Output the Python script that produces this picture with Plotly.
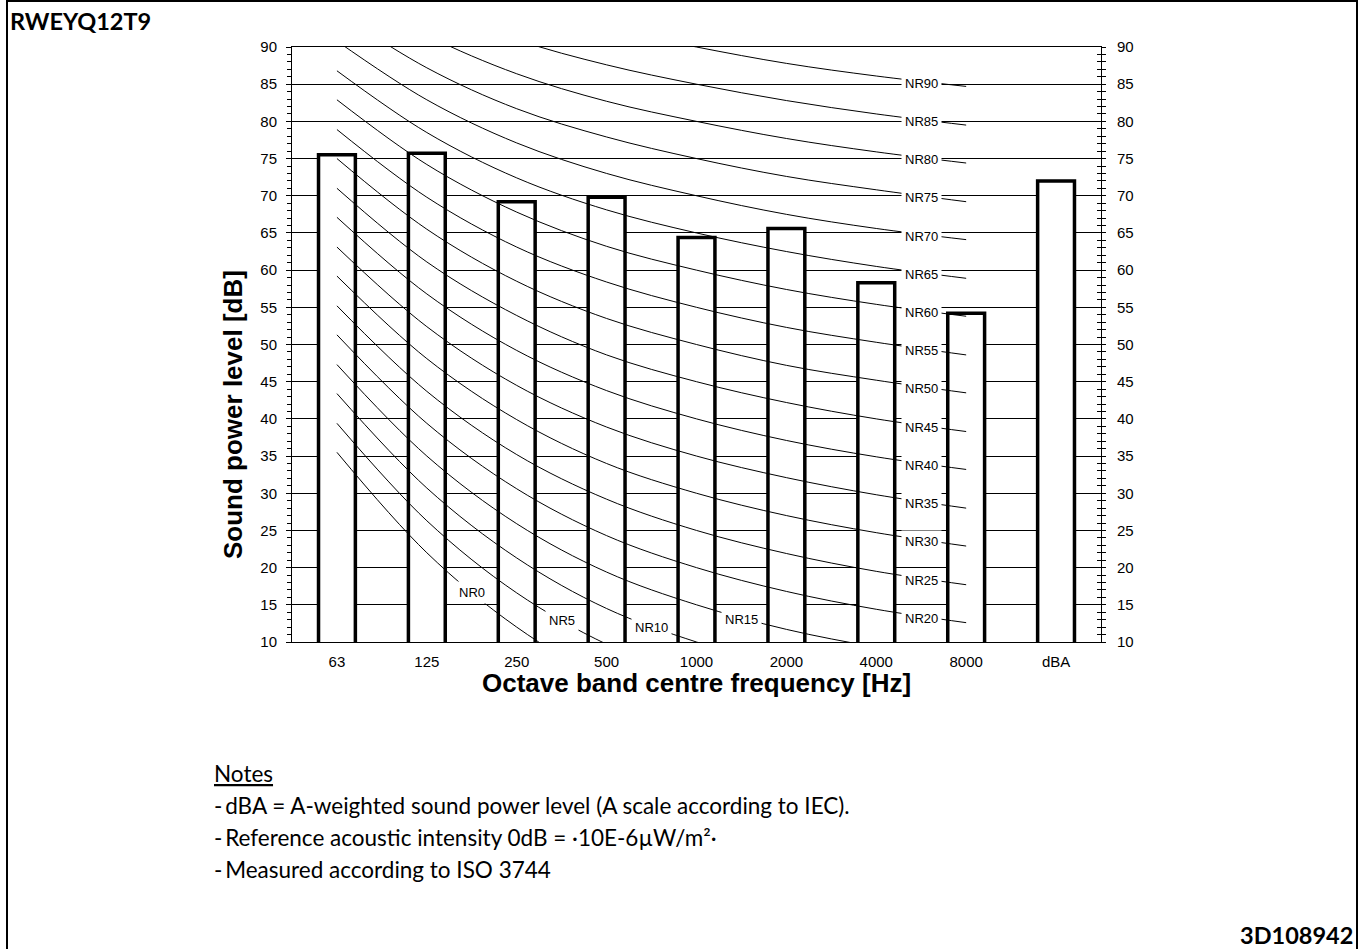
import plotly.graph_objects as go

# ---------------- data ----------------
categories = ["63", "125", "250", "500", "1000", "2000", "4000", "8000", "dBA"]
sound_power = [75.5, 75.7, 69.2, 69.8, 64.4, 65.6, 58.3, 54.2, 72.0]

nr_names = ["NR0", "NR5", "NR10", "NR15", "NR20", "NR25", "NR30", "NR35", "NR40", "NR45",
            "NR50", "NR55", "NR60", "NR65", "NR70", "NR75", "NR80", "NR85", "NR90"]
nr_63 = [35.5, 39.4, 43.4, 47.3, 51.3, 55.2, 59.2, 63.1, 67.1, 71.0, 75.0, 78.9, 82.9, 86.8, 90.8, 94.7, 98.7, 102.6, 106.6]
nr_125 = [22.0, 26.3, 30.7, 35.0, 39.4, 43.7, 48.1, 52.4, 56.8, 61.1, 65.5, 69.8, 74.2, 78.5, 82.9, 87.2, 91.6, 95.9, 100.3]
nr_250 = [12.0, 16.6, 21.3, 25.9, 30.6, 35.2, 39.9, 44.5, 49.2, 53.9, 58.5, 63.1, 67.8, 72.4, 77.1, 81.7, 86.4, 91.0, 95.7]
nr_500 = [4.8, 9.7, 14.5, 19.4, 24.3, 29.2, 34.0, 38.9, 43.8, 48.6, 53.5, 58.4, 63.2, 68.1, 73.0, 77.9, 82.7, 87.6, 92.5]
nr_1000 = [0.0, 5.0, 10.0, 15.0, 20.0, 25.0, 30.0, 35.0, 40.0, 45.0, 50.0, 55.0, 60.0, 65.0, 70.0, 75.0, 80.0, 85.0, 90.0]
nr_2000 = [-3.5, 1.6, 6.6, 11.7, 16.8, 21.9, 27.0, 32.1, 37.1, 42.2, 47.2, 52.3, 57.4, 62.5, 67.5, 72.6, 77.7, 82.8, 87.8]
nr_4000 = [-6.1, -1.0, 4.2, 9.3, 14.4, 19.5, 24.7, 29.8, 34.9, 40.0, 45.2, 50.3, 55.4, 60.5, 65.6, 70.8, 75.9, 81.0, 86.1]
nr_8000 = [-8.0, -2.8, 2.3, 7.4, 12.6, 17.7, 22.9, 28.0, 33.2, 38.3, 43.5, 48.6, 53.8, 58.9, 64.1, 69.2, 74.4, 79.5, 84.7]
# segment (between band i and i+1) on which each NR label sits
nr_label_segment = [1, 2, 3, 4, 6, 6, 6, 6, 6, 6, 6, 6, 6, 6, 6, 6, 6, 6, 6]

y_ticks = [10, 15, 20, 25, 30, 35, 40, 45, 50, 55, 60, 65, 70, 75, 80, 85, 90]

model_name = "RWEYQ12T9"
doc_code = "3D108942"
notes_title = "Notes"
notes_lines = [
    "-\u2009dBA = A-weighted sound power level (A scale according to IEC).",
    "-\u2009Reference acoustic intensity 0dB = \u00b710E-6\u00b5W/m\u00b2\u00b7",
    "-\u2009Measured according to ISO 3744",
]

# ---------------- figure ----------------
ARIAL = "Liberation Sans, Arial, sans-serif"
CAL = "Lato, Carlito, Calibri, sans-serif"
W, H = 1360, 949
L, R, T, B = 292, 1101, 47, 642


def px(x):
    return (x - L) / (R - L)


def py(y):
    return (B - y) / (B - T)


fig = go.Figure()
xpos = list(range(len(categories)))
fig.add_trace(go.Bar(
    x=xpos, y=sound_power, width=0.41,
    marker=dict(color="white", line=dict(color="black", width=3.5)),
    hoverinfo="skip",
))

bands = [nr_63, nr_125, nr_250, nr_500, nr_1000, nr_2000, nr_4000, nr_8000]
annotations = []
for i, name in enumerate(nr_names):
    vals = [b[i] for b in bands]
    fig.add_trace(go.Scatter(
        x=xpos[:8], y=vals, mode="lines",
        line=dict(color="black", width=1, shape="spline", smoothing=1.0),
        hoverinfo="skip",
    ))
    s = nr_label_segment[i]
    annotations.append(dict(
        x=s + 0.5, y=(vals[s] + vals[s + 1]) / 2 - 0.3, xref="x", yref="y",
        text=name, showarrow=False, bgcolor="white", borderpad=3,
        font=dict(family=ARIAL, size=13, color="black"),
    ))

# dummy traces to host the right-hand axes
fig.add_trace(go.Scatter(x=[None], y=[None], yaxis="y2", showlegend=False, hoverinfo="skip"))
fig.add_trace(go.Scatter(x=[None], y=[None], yaxis="y3", showlegend=False, hoverinfo="skip"))

tickfont = dict(family=ARIAL, size=15, color="black")
fig.update_layout(
    width=W, height=H,
    margin=dict(l=L, r=W - R, t=T, b=H - B),
    plot_bgcolor="white", paper_bgcolor="white",
    showlegend=False,
    xaxis=dict(
        range=[-0.5, 8.5], tickvals=xpos, ticktext=categories, tickfont=tickfont,
        showgrid=False, zeroline=False, showline=True, linecolor="black", linewidth=1,
        mirror=True, ticks="", ticklabelstandoff=6,
    ),
    yaxis=dict(
        range=[10, 90], tickvals=y_ticks, tickfont=tickfont,
        showgrid=True, gridcolor="black", gridwidth=1, zeroline=False,
        showline=True, linecolor="black", linewidth=1,
        ticks="outside", ticklen=5, tickcolor="black", ticklabelstandoff=6,
        minor=dict(dtick=1, ticks="outside", ticklen=4, tickcolor="black", showgrid=False),
    ),
    yaxis2=dict(
        range=[10, 90], tickvals=y_ticks, tickfont=tickfont, overlaying="y", side="right",
        showgrid=False, zeroline=False, showline=True, linecolor="black", linewidth=1,
        ticks="outside", ticklen=4, tickcolor="black", ticklabelstandoff=8,
        minor=dict(dtick=1, ticks="outside", ticklen=4, tickcolor="black", showgrid=False),
    ),
    yaxis3=dict(
        range=[10, 90], tickvals=y_ticks, overlaying="y", side="right",
        showticklabels=False, showgrid=False, zeroline=False, showline=False,
        ticks="inside", ticklen=4, tickcolor="black",
        minor=dict(dtick=1, ticks="inside", ticklen=4, tickcolor="black", showgrid=False),
    ),
)

# axis titles
annotations.append(dict(
    x=px(696), y=py(683), xref="paper", yref="paper", text="<b>Octave band centre frequency [Hz]</b>",
    showarrow=False, xanchor="center", yanchor="middle", font=dict(family=ARIAL, size=26, color="black"),
))
annotations.append(dict(
    x=px(233), y=py(415), xref="paper", yref="paper", text="<b>Sound power level [dB]</b>",
    showarrow=False, xanchor="center", yanchor="middle", textangle=-90,
    font=dict(family=ARIAL, size=26, color="black"),
))
# header / footer
annotations.append(dict(
    x=px(8), y=py(21), xref="paper", yref="paper", text="<b>" + model_name + "</b>",
    showarrow=False, xanchor="left", yanchor="middle", font=dict(family=CAL, size=23.5, color="black"),
))
annotations.append(dict(
    x=px(1355), y=py(935), xref="paper", yref="paper", text="<b>" + doc_code + "</b>",
    showarrow=False, xanchor="right", yanchor="middle", font=dict(family=CAL, size=23.5, color="black"),
))
# notes
annotations.append(dict(
    x=px(212), y=py(773), xref="paper", yref="paper", text="<u>" + notes_title + "</u>",
    showarrow=False, xanchor="left", yanchor="middle", font=dict(family=CAL, size=22.5, color="black"),
))
for k, line in enumerate(notes_lines):
    annotations.append(dict(
        x=px(212), y=py(805 + 32 * k), xref="paper", yref="paper", text=line,
        showarrow=False, xanchor="left", yanchor="middle", font=dict(family=CAL, size=22.5, color="black"),
    ))

fig.update_layout(annotations=annotations)

# outer frame
fig.add_shape(type="rect", xref="paper", yref="paper",
              x0=px(7), x1=px(1357), y0=py(960), y1=py(1),
              line=dict(color="black", width=2), fillcolor="rgba(0,0,0,0)", layer="above")

fig.write_html("out.html", config={"displayModeBar": False},
               post_script="document.body.style.margin='0px';")
